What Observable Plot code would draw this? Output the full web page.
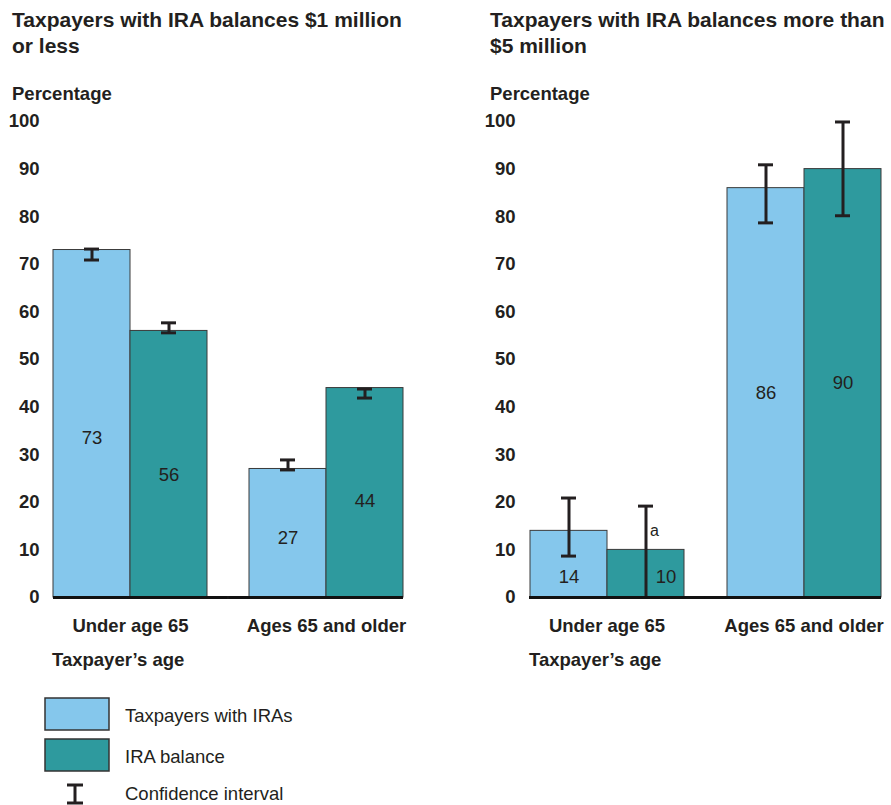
<!DOCTYPE html>
<html>
<head>
<meta charset="utf-8">
<script src="https://cdn.jsdelivr.net/npm/d3@7"></script>
<script src="https://cdn.jsdelivr.net/npm/@observablehq/plot@0.6"></script>
<style>
  body { margin: 0; background: #fff; }
  #wrap { position: relative; width: 891px; height: 805px; overflow: hidden; background: #fff;
          font-family: "Liberation Sans", Arial, sans-serif; color: #231f20; }
  #notes { position: absolute; left: 0; top: 0; }
  #left { position: absolute; left: 0; top: 100px; width: 445px; }
  #right { position: absolute; left: 477px; top: 100px; width: 414px; }
</style>
</head>
<body>
<div id="wrap">
  <svg id="notes" width="891" height="805"></svg>
  <div id="left"></div>
  <div id="right"></div>
</div>
<script>
// Categories and series
const ages = ["Under age 65", "Ages 65 and older"];
const series = ["Taxpayers with IRAs", "IRA balance"];
const seriesColors = ["#85C7EC", "#2E9A9E"];
const yTicks = [0, 10, 20, 30, 40, 50, 60, 70, 80, 90, 100];

// IRA balances of $1 million or less (percent)
const smallWithIras = [73, 27];
const smallBalance = [56, 44];
const smallWithIrasCI = [[70.9, 73.2], [26.8, 28.9]];
const smallBalanceCI = [[55.6, 57.7], [41.9, 43.8]];

// IRA balances of more than $5 million (percent)
const largeWithIras = [14, 86];
const largeBalance = [10, 90];
const largeWithIrasCI = [[8.7, 20.9], [78.7, 90.9]];
const largeBalanceCI = [[0, 19.2], [80.2, 99.9]];
const largeBalanceNotes = ["a", ""];

const ink = "#231f20";
const fontFamily = "Liberation Sans, Arial, sans-serif";
const textSize = 18.5;
const groupGap = 0.213; // inner padding of the age-group bands

function panel({withIras, balance, withCI, balCI, notes, width, marginRight, labelShare}) {
  const rows = ages.flatMap((age, i) => [
    {age, series: series[0], value: withIras[i], lo: withCI[i][0], hi: withCI[i][1], note: ""},
    {age, series: series[1], value: balance[i], lo: balCI[i][0], hi: balCI[i][1], note: notes ? notes[i] : ""}
  ]);
  const pos = {fx: "age", x: "series"};
  const labelY = d => d.value >= 20 ? d.value * labelShare : 4.3;
  // half of the pixel gap between the two age groups, so the baseline runs through it
  const span = width - 52 - marginRight;
  const halfGap = (span / (ages.length - groupGap)) * groupGap / 2;
  return Plot.plot({
    width,
    height: 545,
    marginTop: 21,
    marginBottom: 48,
    marginLeft: 52,
    marginRight,
    style: {fontFamily, background: "transparent", color: ink},
    fx: {domain: ages, paddingInner: groupGap, paddingOuter: 0, label: null},
    x: {domain: series, padding: 0, axis: null},
    y: {domain: [0, 100], label: null},
    color: {domain: series, range: seriesColors},
    marks: [
      Plot.axisY({ticks: yTicks, tickSize: 0, tickPadding: 14, label: null,
                  fontSize: textSize, fontWeight: "bold", color: ink}),
      Plot.axisFx({anchor: "bottom", tickSize: 0, tickPadding: 21, label: null,
                   fontSize: textSize, fontWeight: "bold", color: ink}),
      Plot.barY(rows, {...pos, y: "value", fill: "series", stroke: "#3a3a3a", strokeWidth: 1}),
      // value labels; a label beside an error line that reaches zero is nudged right
      Plot.text(rows.filter(d => d.lo > 0), {...pos, y: labelY, text: d => String(d.value),
                fontSize: textSize, fill: ink}),
      Plot.text(rows.filter(d => d.lo === 0), {...pos, y: labelY, text: d => String(d.value),
                dx: 20, fontSize: textSize, fill: ink}),
      // confidence intervals
      Plot.ruleX(rows, {...pos, y1: "lo", y2: "hi", stroke: ink, strokeWidth: 3}),
      Plot.tickY(rows, {...pos, y: "lo", insetLeft: 31, insetRight: 31, stroke: ink, strokeWidth: 3}),
      Plot.tickY(rows, {...pos, y: "hi", insetLeft: 31, insetRight: 31, stroke: ink, strokeWidth: 3}),
      Plot.text(rows.filter(d => d.note), {...pos, y: d => d.value + 4, text: "note", dx: 4,
                textAnchor: "start", fontSize: 16, fill: ink}),
      // baseline, continued across the gap between the age groups
      Plot.ruleY([{age: ages[0]}], {fx: "age", y: 0, insetRight: -halfGap, stroke: "#111", strokeWidth: 3}),
      Plot.ruleY([{age: ages[1]}], {fx: "age", y: 0, insetLeft: -halfGap, stroke: "#111", strokeWidth: 3})
    ]
  });
}

document.getElementById("left").append(panel({
  withIras: smallWithIras, balance: smallBalance,
  withCI: smallWithIrasCI, balCI: smallBalanceCI,
  width: 445, marginRight: 41, labelShare: 0.46
}));
document.getElementById("right").append(panel({
  withIras: largeWithIras, balance: largeBalance,
  withCI: largeWithIrasCI, balCI: largeBalanceCI, notes: largeBalanceNotes,
  width: 414, marginRight: 9, labelShare: 0.5
}));

// Titles, axis captions and legend
const notes = d3.select("#notes").style("font-family", fontFamily);
const text = (x, y, s, size, weight) => notes.append("text")
  .attr("x", x).attr("y", y).attr("fill", ink)
  .style("font-size", size + "px").style("font-weight", weight).text(s);

text(12, 27, "Taxpayers with IRA balances $1 million", 21, "bold");
text(12, 53, "or less", 21, "bold");
text(490, 27, "Taxpayers with IRA balances more than", 21, "bold");
text(490, 53, "$5 million", 21, "bold");
text(12, 100, "Percentage", textSize, "bold");
text(490, 100, "Percentage", textSize, "bold");
text(52, 666, "Taxpayer\u2019s age", textSize, "bold");
text(529, 666, "Taxpayer\u2019s age", textSize, "bold");

series.forEach((s, i) => {
  const y = 698 + i * 41;
  notes.append("rect").attr("x", 45).attr("y", y).attr("width", 64).attr("height", 32)
    .attr("fill", seriesColors[i]).attr("stroke", "#333").attr("stroke-width", 1.5);
  text(125, y + 24, s, textSize, "normal");
});
const ci = notes.append("g").attr("stroke", ink).attr("stroke-width", 3);
ci.append("line").attr("x1", 75).attr("x2", 75).attr("y1", 785).attr("y2", 803);
ci.append("line").attr("x1", 67).attr("x2", 83).attr("y1", 785).attr("y2", 785);
ci.append("line").attr("x1", 67).attr("x2", 83).attr("y1", 803).attr("y2", 803);
text(125, 800, "Confidence interval", textSize, "normal");
</script>
</body>
</html>
